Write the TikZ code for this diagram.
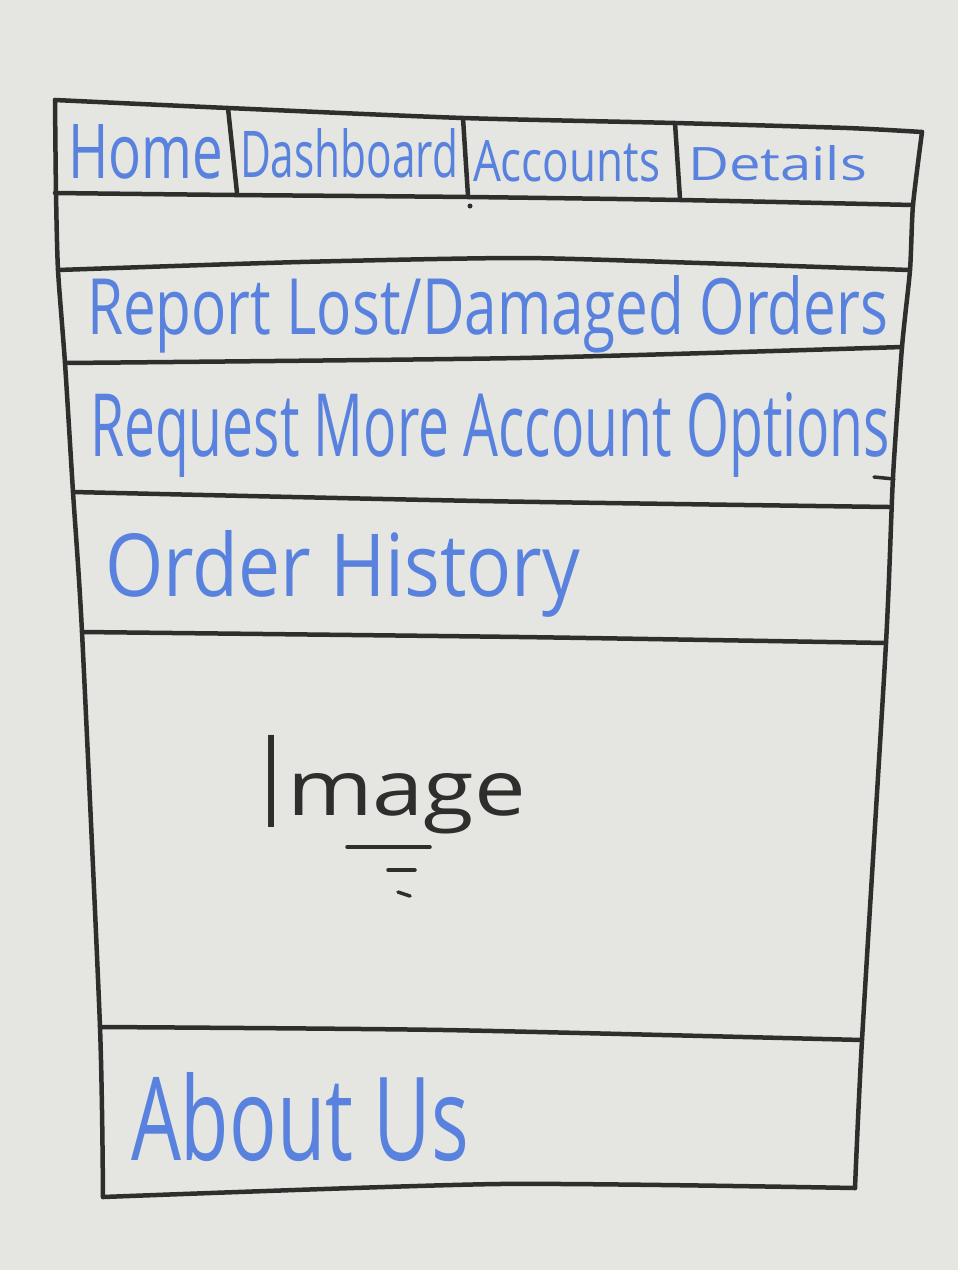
\documentclass[tikz,border=0pt]{standalone}
\usepackage{fontspec}
\setmainfont{Open Sans}
\definecolor{board}{RGB}{229,229,226}
\definecolor{ink}{RGB}{46,46,44}
\definecolor{marker}{RGB}{88,130,222}
% stretch a label to a given width and height (height above the baseline)
\newcommand{\penlabel}[3]{\resizebox{#1pt}{#2pt}{#3}}
\begin{document}
\begin{tikzpicture}[x=1pt,y=-1pt,
  frame/.style={draw=ink,line width=4.5pt,line cap=round,line join=round},
  thinframe/.style={draw=ink,line width=3.5pt,line cap=round},
  bluetext/.style={text=marker,inner sep=0pt,outer sep=0pt,anchor=base west},
  inktext/.style={text=ink,inner sep=0pt,outer sep=0pt,anchor=base west}]
\fill[board] (0,0) rectangle (958,1270);
\useasboundingbox (0,0) rectangle (958,1270);

% outer frame: left and right edges
\draw[frame] plot[smooth,tension=0.4] coordinates {(55,100) (56,193) (58,270) (65,363) (73,492) (82,632) (100,1027) (103,1197)};
\draw[frame] plot[smooth,tension=0.4] coordinates {(922,132) (913,205) (910,270) (902,347) (893,477) (886,643) (862,1040) (855,1188)};

% horizontal rules
\draw[frame] plot[smooth,tension=0.4] coordinates {(55,100) (228,108) (463,118) (675,123) (847,128) (922,132)};
\draw[frame] plot[smooth,tension=0.4] coordinates {(55,193) (235,195) (468,197) (680,200) (913,205)};
\draw[frame] plot[smooth,tension=0.4] coordinates {(58,270) (300,262) (520,258) (700,263) (910,270)};
\draw[frame] plot[smooth,tension=0.4] coordinates {(65,363) (520,358) (902,347)};
\draw[frame] plot[smooth,tension=0.4] coordinates {(73,492) (480,501) (889,507)};
\draw[frame] plot[smooth,tension=0.4] coordinates {(82,632) (520,637) (886,643)};
\draw[frame] plot[smooth,tension=0.4] coordinates {(100,1027) (444,1030) (862,1040)};
\draw[frame] plot[smooth,tension=0.4] coordinates {(103,1197) (499,1184) (855,1188)};

% tab dividers
\draw[frame] (228,108) -- (237,193);
\draw[frame] (463,118) -- (468,196);
\draw[frame] (675,123) -- (680,199);
\fill[ink] (470,206) circle (2.5pt);
\draw[thinframe] (874,477) -- (894,479);

% navigation tabs
\node[bluetext] (home) at (68,178) {\penlabel{155}{54}{Home}};
\node[bluetext] (dash) at (240,177) {\penlabel{218}{49}{Dashboard}};
\node[bluetext] (acct) at (473,181) {\penlabel{187}{41}{Accounts}};
\node[bluetext] (det) at (688,180) {\penlabel{179}{35}{Details}};

% menu rows
\node[bluetext] (report) at (87,334) {\penlabel{801}{59}{Report Lost/Damaged Orders}};
\node[bluetext] (request) at (90,456) {\penlabel{800}{64}{Request More Account Options}};
\node[bluetext] (history) at (105,596) {\penlabel{475}{66}{Order History}};

% image placeholder: tall capital, small lowercase
\node[inktext] (image) at (261,827) {\penlabel{20}{92}{I}\hspace{6pt}\raisebox{12pt}{\penlabel{239}{42}{mage}}};
\draw[thinframe] (347,847) -- (430,847);
\draw[thinframe] (388,870) -- (415,870);
\draw[thinframe] (398,892) -- (410,896);

% footer
\node[bluetext] (about) at (131,1160) {\penlabel{338}{88}{About Us}};
\end{tikzpicture}
\end{document}
